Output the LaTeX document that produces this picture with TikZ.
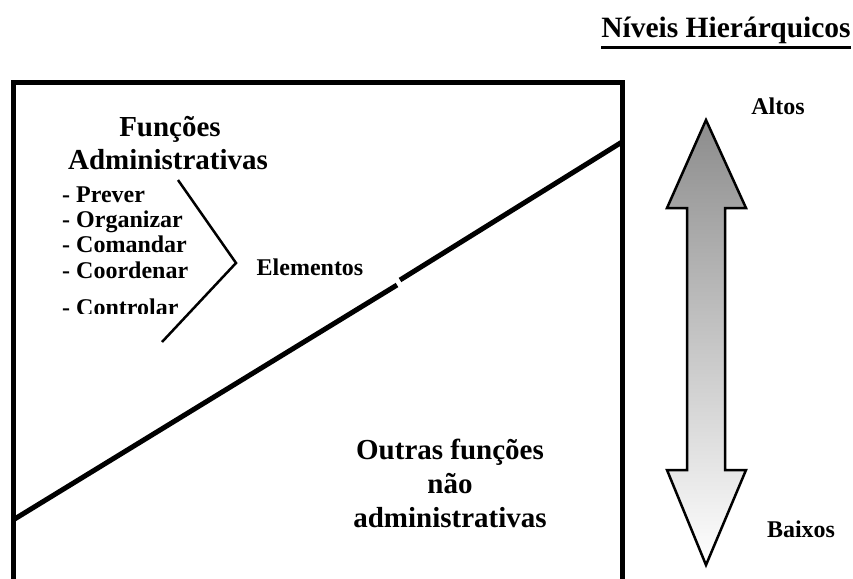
\documentclass[tikz,border=0pt]{standalone}
\usepackage{fontspec}
\setmainfont{Liberation Serif}
\begin{document}
\begin{tikzpicture}[x=1pt,y=-1pt,
  txt/.style={font=\bfseries, inner sep=0pt, align=center},
  item/.style={font=\bfseries\fontsize{24}{25}\selectfont, inner sep=0pt, anchor=base west},
  heavy/.style={line width=5pt},
  bracketline/.style={line width=2.5pt}]
\useasboundingbox (0,0) rectangle (853,578);
\clip (0,0) rectangle (853,578);
% frame
\coordinate (bl) at (13,600);
\coordinate (tl) at (13,82);
\coordinate (tr) at (622,82);
\coordinate (br) at (622,600);
\draw[heavy, line join=miter] (bl) -- (tl) -- (tr) -- (br);
% diagonal
\coordinate (d1) at (13,520);
\coordinate (d2) at (397,285);
\coordinate (d3) at (400,280);
\coordinate (d4) at (622,142);
\draw[heavy] (d1) -- (d2);
\draw[heavy] (d3) -- (d4);
% headings
\node[txt, font=\bfseries\fontsize{29}{32}\selectfont] (f1) at (170,129) {Funções};
\node[txt, font=\bfseries\fontsize{29}{32}\selectfont] (f2) at (168,160) {Administrativas};
% list
\node[item] (p1) at (62,202) {- Prever};
\node[item] (p2) at (62,227) {- Organizar};
\node[item] (p3) at (62,252) {- Comandar};
\node[item] (p4) at (62,278) {- Coordenar};
\begin{scope}
\clip (0,0) rectangle (300,313);
\node[item] (p5) at (62,315) {- Controlar};
\end{scope}
% bracket
\coordinate (b1) at (178,180);
\coordinate (b2) at (236,263);
\coordinate (b3) at (162,342);
\draw[bracketline, line join=miter] (b1) -- (b2) -- (b3);
\node[txt, font=\bfseries\fontsize{24}{28}\selectfont] (el) at (310,267) {Elementos};
% lower text
\node[txt, font=\bfseries\fontsize{29}{34}\selectfont] (o1) at (450,483) {Outras funções\\não\\administrativas};
% right side
\node[txt, font=\bfseries\fontsize{29.5}{32}\selectfont] (nh) at (726,30) {Níveis Hierárquicos};
\draw[line width=3pt] ([yshift=-4pt]nh.south west) -- ([yshift=-4pt]nh.south east);
\node[txt, font=\bfseries\fontsize{24}{28}\selectfont] (al) at (778,106) {Altos};
\node[txt, font=\bfseries\fontsize{24}{28}\selectfont] (bx) at (801,529) {Baixos};
% double arrow
\shade[top color=black!45, bottom color=white, draw=black, line width=2.5pt, line join=miter]
  (706,120) -- (746,208) -- (725,208) -- (725,470) -- (746,470) -- (706,565)
  -- (667,470) -- (687,470) -- (687,208) -- (667,208) -- cycle;
\end{tikzpicture}
\end{document}
